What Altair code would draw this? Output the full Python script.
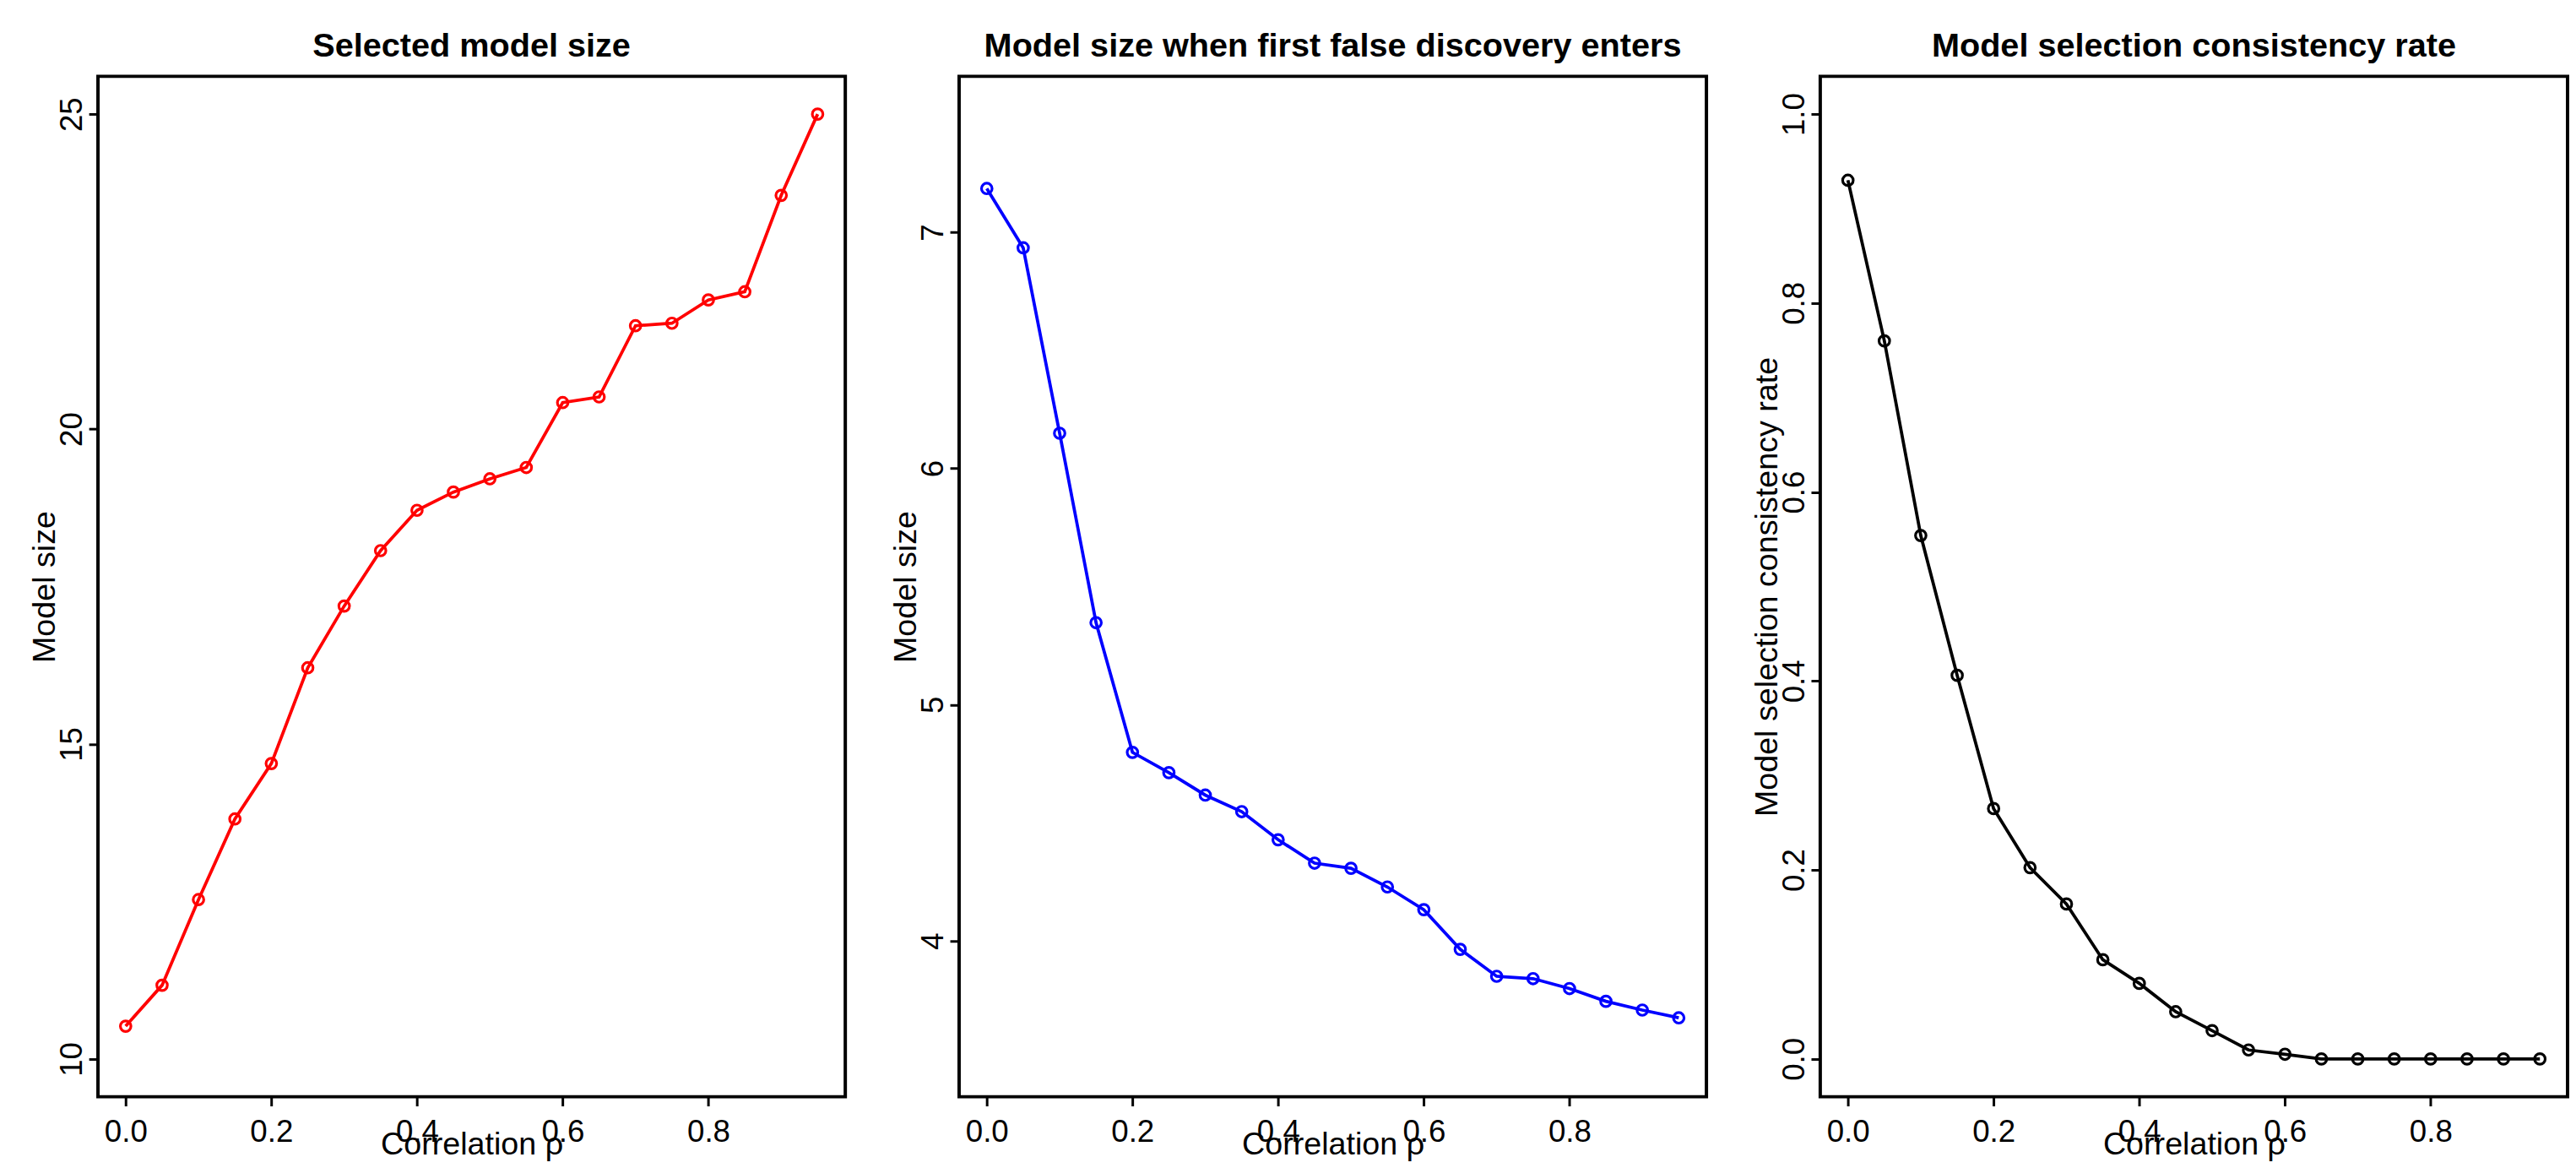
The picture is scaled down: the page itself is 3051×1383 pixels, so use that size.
import altair as alt
import pandas as pd

rho = [0.00, 0.05, 0.10, 0.15, 0.20, 0.25, 0.30, 0.35, 0.40, 0.45,
       0.50, 0.55, 0.60, 0.65, 0.70, 0.75, 0.80, 0.85, 0.90, 0.95]
selected_size = [10.52, 11.17, 12.53, 13.81, 14.69, 16.21, 17.19, 18.07, 18.71, 19.00,
                 19.21, 19.39, 20.42, 20.51, 21.64, 21.68, 22.05, 22.18, 23.71, 25.00]
first_fd_size = [7.185, 6.934, 6.149, 5.347, 4.798, 4.712, 4.617, 4.547, 4.428, 4.329,
                 4.307, 4.228, 4.132, 3.964, 3.850, 3.840, 3.798, 3.744, 3.707, 3.674]
consistency = [0.930, 0.760, 0.554, 0.406, 0.265, 0.2025, 0.164, 0.105, 0.080, 0.050,
               0.030, 0.0095, 0.005, 0.0, 0.0, 0.0, 0.0, 0.0, 0.0, 0.0]

titles = ["Selected model size",
          "Model size when first false discovery enters",
          "Model selection consistency rate"]
ytitles = ["Model size", "Model size", "Model selection consistency rate"]
ydomains = [[9.4, 25.6], [3.34, 7.66], [-0.04, 1.04]]
yticks = [[10, 15, 20, 25], [4, 5, 6, 7], [0.0, 0.2, 0.4, 0.6, 0.8, 1.0]]
yformats = ["d", "d", ".1f"]
colors = ["#FF0000", "#0000FF", "#000000"]
xticks = [0.0, 0.2, 0.4, 0.6, 0.8]

W = 893
H = 1219
FONT = "Liberation Sans"

series = [selected_size, first_fd_size, consistency]

panels = []
for i in range(3):
    df = pd.DataFrame({"rho": rho, "val": series[i]})
    x = alt.X("rho:Q",
              scale=alt.Scale(domain=[-0.038, 0.988], nice=False, zero=False),
              axis=alt.Axis(values=xticks, format=".1f", title="Correlation ρ",
                            labelPadding=13, labelFlush=False, labelOverlap=False,
                            titleX=W / 2, titleY=68, titleBaseline="alphabetic",
                            titleAlign="center"))
    y = alt.Y("val:Q",
              scale=alt.Scale(domain=ydomains[i], nice=False, zero=False),
              axis=alt.Axis(values=yticks[i], format=yformats[i], title=ytitles[i],
                            labelAngle=270, labelAlign="center",
                            labelBaseline="alphabetic", labelPadding=9,
                            labelFlush=False, labelOverlap=False,
                            titleAngle=270, titleX=-52, titleY=H / 2,
                            titleAlign="center", titleBaseline="alphabetic"))
    base = alt.Chart(df)
    line = base.mark_line(color=colors[i], strokeWidth=3.8).encode(x=x, y=y)
    pts = base.mark_point(shape="circle", filled=False, color=colors[i],
                          size=160, strokeWidth=3.2, opacity=1).encode(x=x, y=y)
    panel = alt.layer(line, pts).properties(
        width=W, height=H,
        title=alt.Title(titles[i], fontSize=40, fontWeight="bold", font=FONT,
                        baseline="alphabetic", offset=-16, frame="group",
                        anchor="middle", color="black"))
    panels.append(panel)

chart = alt.hconcat(*panels, spacing=50).properties(
    padding={"left": 25, "top": 19, "right": 0, "bottom": 0},
    background="white"
).configure_view(
    stroke="black", strokeWidth=4
).configure_axis(
    domain=False, grid=False, ticks=True, tickColor="black", tickWidth=3,
    tickSize=11, labelFont=FONT, labelFontSize=37, labelColor="black",
    titleFont=FONT, titleFontSize=38, titleFontWeight="normal", titleColor="black"
)

chart.save("out.html", embed_options={"renderer": "svg", "actions": False})
